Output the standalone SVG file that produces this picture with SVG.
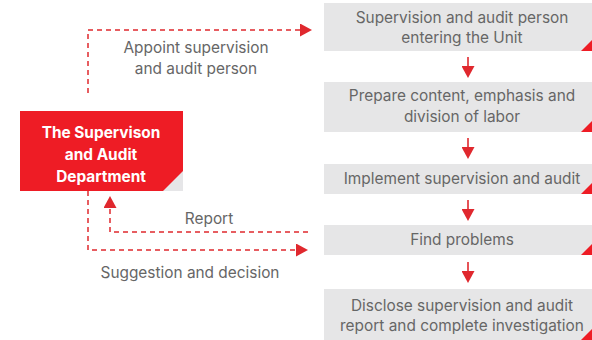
<svg xmlns="http://www.w3.org/2000/svg" width="592" height="340" viewBox="0 0 592 340">
<style>
.box{fill:#e6e6e7}
.corner{fill:#ee1c25}
.lbl{font-family:Inter,Roboto,"Liberation Sans",sans-serif;font-size:15.4px;fill:#666;text-anchor:middle}
.wt{font-family:Inter,Roboto,"Liberation Sans",sans-serif;font-size:15.4px;font-weight:bold;fill:#fff;text-anchor:middle}
.dash{fill:none;stroke:#e0282e;stroke-width:1.5;stroke-dasharray:5 4}
.solid{fill:none;stroke:#e0282e;stroke-width:1.6}
</style>
<defs>
<marker id="ah" markerUnits="userSpaceOnUse" markerWidth="12" markerHeight="13" viewBox="0 0 12 13" refX="0" refY="6.5" orient="auto">
<path d="M0,0 L12,6.5 L0,13 Z" fill="#e0282e"/>
</marker>
</defs>
<g id="connectors">
<path class="dash" d="M88,93 V30 H300" marker-end="url(#ah)"/>
<path class="dash" d="M88,191 V250 H296" marker-end="url(#ah)"/>
<path class="dash" d="M308,232 H110 V208" marker-end="url(#ah)"/>
<path class="solid" d="M468,57 V66" marker-end="url(#ah)"/>
<path class="solid" d="M468,138 V147" marker-end="url(#ah)"/>
<path class="solid" d="M468,200 V209" marker-end="url(#ah)"/>
<path class="solid" d="M468,262 V271" marker-end="url(#ah)"/>
</g>
<g id="dept">
<rect x="20" y="111" width="163" height="80" fill="#ee1c25"/>
<polygon points="183,171 183,191 163,191" fill="#e6e6e8"/>
<text class="wt" x="101" y="138">The Supervison</text>
<text class="wt" x="101" y="160">and Audit</text>
<text class="wt" x="101" y="182">Department</text>
</g>
<g id="n1">
<rect class="box" x="324" y="3" width="268" height="48"/>
<polygon class="corner" points="581,51 592,51 592,40"/>
<text class="lbl" x="462" y="23">Supervision and audit person</text>
<text class="lbl" x="462" y="43">entering  the Unit</text>
</g>
<g id="n2">
<rect class="box" x="324" y="82" width="268" height="50"/>
<polygon class="corner" points="581,132 592,132 592,121"/>
<text class="lbl" x="462" y="101">Prepare content, emphasis and</text>
<text class="lbl" x="462" y="122">division of labor</text>
</g>
<g id="n3">
<rect class="box" x="324" y="164" width="268" height="30"/>
<polygon class="corner" points="581,194 592,194 592,183"/>
<text class="lbl" x="462" y="184">Implement supervision and audit</text>
</g>
<g id="n4">
<rect class="box" x="324" y="225" width="268" height="30"/>
<polygon class="corner" points="581,255 592,255 592,244"/>
<text class="lbl" x="462" y="245">Find problems</text>
</g>
<g id="n5">
<rect class="box" x="324" y="289" width="268" height="51"/>
<polygon class="corner" points="581,340 592,340 592,329"/>
<text class="lbl" x="462" y="311">Disclose supervision and audit</text>
<text class="lbl" x="462" y="331">report and complete investigation</text>
</g>
<g id="labels">
<text class="lbl" x="196" y="53">Appoint supervision</text>
<text class="lbl" x="196" y="74">and audit person</text>
<text class="lbl" x="209" y="224">Report</text>
<text class="lbl" x="190" y="278">Suggestion and decision</text>
</g>
</svg>
